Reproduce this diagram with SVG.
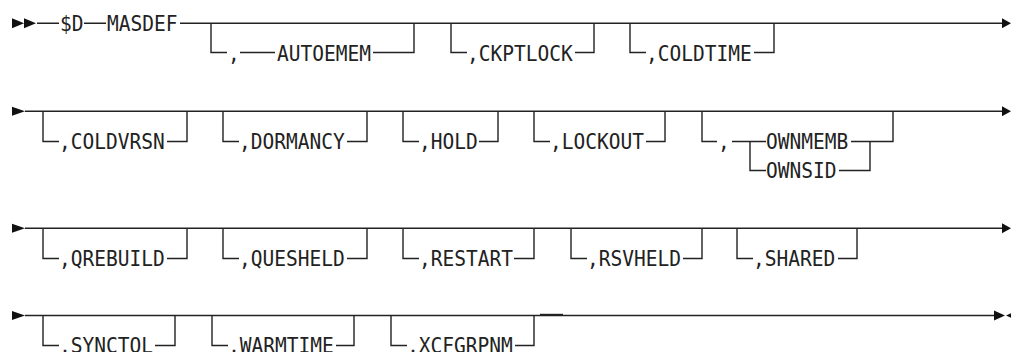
<svg xmlns="http://www.w3.org/2000/svg" width="1011" height="352" viewBox="0 0 1011 352">
<style>
.t{font-family:"DejaVu Sans Mono","Liberation Mono",monospace;font-size:21px;fill:#222}
.c path{fill:none;stroke:#222;stroke-width:1.4}
.a{fill:#111}
</style>
<rect width="1011" height="352" fill="#fff"/>
<g id="connectors" class="c">
<path d="M37 23.3H59M84 23.3H106M180 23.3H1004"/>
<path d="M211 23.3V52.5H227M240 52.5H275M373 52.5H414V23.3"/>
<path d="M451 23.3V52.5H467M575 52.5H594V23.3"/>
<path d="M630 23.3V52.5H646M754 52.5H774V23.3"/>
<path d="M25 111.3H1004"/>
<path d="M43 111.3V141.5H59M167 141.5H187V111.3"/>
<path d="M223 111.3V141.5H239M347 141.5H367V111.3"/>
<path d="M403 111.3V141.5H419M479 141.5H498V111.3"/>
<path d="M534 111.3V141.5H550M646 141.5H665V111.3"/>
<path d="M702 111.3V141.5H717M732 141.5H766M750 141.5V170.5H766M851 141.5H893V111.3M839 170.5H870V141.5"/>
<path d="M25 228.3H1004"/>
<path d="M43 228.3V258.5H59M167 258.5H187V228.3"/>
<path d="M223 228.3V258.5H239M347 258.5H367V228.3"/>
<path d="M403 228.3V258.5H419M514 258.5H534V228.3"/>
<path d="M571 228.3V258.5H587M683 258.5H702V228.3"/>
<path d="M737 228.3V258.5H753M838 258.5H857V228.3"/>
<path d="M25 315.5H995"/>
<path d="M540 314.5H563"/>
<path d="M43 315.5V345.5H59M155 345.5H175V315.5"/>
<path d="M212 315.5V345.5H228M336 345.5H354V315.5"/>
<path d="M391 315.5V345.5H407M515 345.5H534V315.5"/>
</g>
<g id="arrows">
<path class="a" d="M12 18.3L24 23.3L12 28.3ZM24 18.3L36 23.3L24 28.3Z"/>
<path class="a" d="M1002 18.3L1011 23.3L1002 28.3Z"/>
<path class="a" d="M12 106.8L25 111.3L12 115.8Z"/>
<path class="a" d="M1002 106.3L1011 111.3L1002 116.3Z"/>
<path class="a" d="M12 223.8L25 228.3L12 232.8Z"/>
<path class="a" d="M1002 223.3L1011 228.3L1002 233.3Z"/>
<path class="a" d="M12 311L25 315.5L12 320Z"/>
<path class="a" d="M994 310.5L1005 315.5L994 320.5ZM1017 310.5L1006 315.5L1017 320.5Z"/>
</g>
<g id="n-sd"><text class="t" x="60" y="31" textLength="23.5" lengthAdjust="spacingAndGlyphs">$D</text></g>
<g id="n-masdef"><text class="t" x="107" y="31" textLength="70.5" lengthAdjust="spacingAndGlyphs">MASDEF</text></g>
<g id="n-autoemem"><text class="t" x="228" y="60.5" textLength="11.75" lengthAdjust="spacingAndGlyphs">,</text><text class="t" x="277" y="60.5" textLength="94" lengthAdjust="spacingAndGlyphs">AUTOEMEM</text></g>
<g id="n-ckptlock"><text class="t" x="467" y="60.5" textLength="105.75" lengthAdjust="spacingAndGlyphs">,CKPTLOCK</text></g>
<g id="n-coldtime"><text class="t" x="646" y="60.5" textLength="105.75" lengthAdjust="spacingAndGlyphs">,COLDTIME</text></g>
<g id="n-coldvrsn"><text class="t" x="59" y="149" textLength="105.75" lengthAdjust="spacingAndGlyphs">,COLDVRSN</text></g>
<g id="n-dormancy"><text class="t" x="239" y="149" textLength="105.75" lengthAdjust="spacingAndGlyphs">,DORMANCY</text></g>
<g id="n-hold"><text class="t" x="419" y="149" textLength="58.75" lengthAdjust="spacingAndGlyphs">,HOLD</text></g>
<g id="n-lockout"><text class="t" x="550" y="149" textLength="94" lengthAdjust="spacingAndGlyphs">,LOCKOUT</text></g>
<g id="n-own"><text class="t" x="718" y="149" textLength="11.75" lengthAdjust="spacingAndGlyphs">,</text><text class="t" x="766" y="149" textLength="82.25" lengthAdjust="spacingAndGlyphs">OWNMEMB</text><text class="t" x="766" y="178" textLength="70.5" lengthAdjust="spacingAndGlyphs">OWNSID</text></g>
<g id="n-qrebuild"><text class="t" x="59" y="266" textLength="105.75" lengthAdjust="spacingAndGlyphs">,QREBUILD</text></g>
<g id="n-quesheld"><text class="t" x="239" y="266" textLength="105.75" lengthAdjust="spacingAndGlyphs">,QUESHELD</text></g>
<g id="n-restart"><text class="t" x="419" y="266" textLength="94" lengthAdjust="spacingAndGlyphs">,RESTART</text></g>
<g id="n-rsvheld"><text class="t" x="587" y="266" textLength="94" lengthAdjust="spacingAndGlyphs">,RSVHELD</text></g>
<g id="n-shared"><text class="t" x="753" y="266" textLength="82.25" lengthAdjust="spacingAndGlyphs">,SHARED</text></g>
<g id="n-synctol"><text class="t" x="59" y="353" textLength="94" lengthAdjust="spacingAndGlyphs">,SYNCTOL</text></g>
<g id="n-warmtime"><text class="t" x="228" y="353" textLength="105.75" lengthAdjust="spacingAndGlyphs">,WARMTIME</text></g>
<g id="n-xcfgrpnm"><text class="t" x="407" y="353" textLength="105.75" lengthAdjust="spacingAndGlyphs">,XCFGRPNM</text></g>
</svg>
